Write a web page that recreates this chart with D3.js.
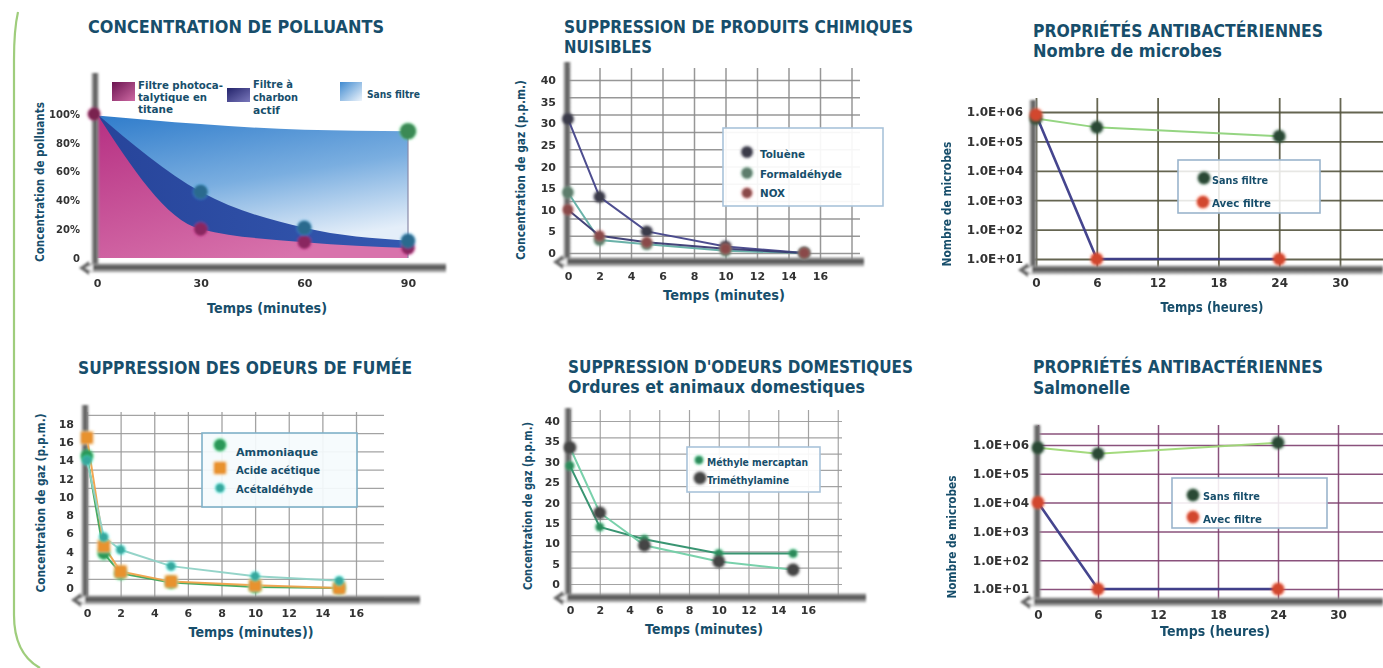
<!DOCTYPE html>
<html><head><meta charset="utf-8">
<script src="https://cdn.jsdelivr.net/npm/d3@7"></script>
<style>
body{margin:0;background:#fff;}
svg{display:block;}
text{font-family:"DejaVu Sans",Verdana,sans-serif;}
</style></head>
<body><svg id="c" width="1383" height="668"></svg>
<script>
// ================= DATA =================
const p1Title = ["CONCENTRATION DE POLLUANTS"];
const p1Minutes = [0, 30, 60, 90];
const p1TiO2 = [100, 20, 11, 7];
const p1Charbon = [100, 46, 21, 12];
const p1SansFiltre = [99, 93, 89, 88];
const p1YTicks = [0, 20, 40, 60, 80, 100];
const p1YTickLabels = ["0", "20%", "40%", "60%", "80%", "100%"];
const p1XTicks = [0, 30, 60, 90];
const p1Legend = [["Filtre photoca-", "talytique en", "titane"], ["Filtre à", "charbon", "actif"], ["Sans filtre"]];
const p1AxisTitles = ["Temps (minutes)", "Concentration de polluants"];

const p2Title = ["SUPPRESSION DE PRODUITS CHIMIQUES", "NUISIBLES"];
const p2Minutes = [0, 2, 5, 10, 15];
const p2Toluene = [31, 13, 5, 1.5, 0];
const p2Formaldehyde = [14, 3, 2, 0.5, 0];
const p2Nox = [10, 4, 2.5, 1, 0];
const p2Legend = ["Toluène", "Formaldéhyde", "NOX"];
const p2YTicks = [0, 5, 10, 15, 20, 25, 30, 35, 40];
const p2XTicks = [0, 2, 4, 6, 8, 10, 12, 14, 16];
const p2AxisTitles = ["Temps (minutes)", "Concentration de gaz (p.p.m.)"];

const p3Title = ["PROPRIÉTÉS ANTIBACTÉRIENNES", "Nombre de microbes"];
const p3Hours = [0, 6, 24];
const p3SansFiltre = [6e5, 3e5, 1.5e5];
const p3AvecFiltre = [8e5, 10, 10];
const p3Legend = ["Sans filtre", "Avec filtre"];
const p3YTicks = [1e1, 1e2, 1e3, 1e4, 1e5, 1e6];
const p3YTickLabels = ["1.0E+01", "1.0E+02", "1.0E+03", "1.0E+04", "1.0E+05", "1.0E+06"];
const p3XTicks = [0, 6, 12, 18, 24, 30];
const p3AxisTitles = ["Temps (heures)", "Nombre de microbes"];

const p4Title = ["SUPPRESSION DES ODEURS DE FUMÉE"];
const p4Minutes = [0, 1, 2, 5, 10, 15];
const p4Ammoniaque = [14.5, 3.8, 1.6, 0.6, 0.1, 0];
const p4AcideAcetique = [16.5, 4.6, 1.8, 0.7, 0.3, 0];
const p4Acetaldehyde = [14, 5.6, 4.2, 2.4, 1.3, 0.8];
const p4Legend = ["Ammoniaque", "Acide acétique", "Acétaldéhyde"];
const p4YTicks = [0, 2, 4, 6, 8, 10, 12, 14, 16, 18];
const p4XTicks = [0, 2, 4, 6, 8, 10, 12, 14, 16];
const p4AxisTitles = ["Temps (minutes))", "Concentration de gaz (p.p.m.)"];

const p5Title = ["SUPPRESSION D'ODEURS DOMESTIQUES", "Ordures et animaux domestiques"];
const p5Minutes = [0, 2, 5, 10, 15];
const p5Mercaptan = [29, 14, 11, 7.5, 7.5];
const p5Trimethylamine = [33.5, 17.5, 9.5, 5.5, 3.5];
const p5Legend = ["Méthyle mercaptan", "Triméthylamine"];
const p5YTicks = [0, 5, 10, 15, 20, 25, 30, 35, 40];
const p5XTicks = [0, 2, 4, 6, 8, 10, 12, 14, 16];
const p5AxisTitles = ["Temps (minutes)", "Concentration de gaz (p.p.m.)"];

const p6Title = ["PROPRIÉTÉS ANTIBACTÉRIENNES", "Salmonelle"];
const p6Hours = [0, 6, 24];
const p6SansFiltre = [8e5, 5e5, 1.2e6];
const p6AvecFiltre = [1e4, 10, 10];
const p6Legend = ["Sans filtre", "Avec filtre"];
const p6YTicks = [1e1, 1e2, 1e3, 1e4, 1e5, 1e6];
const p6YTickLabels = ["1.0E+01", "1.0E+02", "1.0E+03", "1.0E+04", "1.0E+05", "1.0E+06"];
const p6XTicks = [0, 6, 12, 18, 24, 30];
const p6AxisTitles = ["Temps (heures)", "Nombre de microbes"];

// ================= DRAWING =================
const TEAL = "#174e6b";
const svg = d3.select("#c");
const defs = svg.append("defs");

function blurFilter(id, sd) {
  const f = defs.append("filter").attr("id", id).attr("x", "-50%").attr("y", "-50%").attr("width", "200%").attr("height", "200%");
  f.append("feGaussianBlur").attr("stdDeviation", sd);
}
blurFilter("soft", 0.55);
blurFilter("mk", 0.85);
blurFilter("bar", 0.8);

function linGrad(id, stops, x1, y1, x2, y2) {
  const g = defs.append("linearGradient").attr("id", id)
    .attr("x1", x1).attr("y1", y1).attr("x2", x2).attr("y2", y2);
  stops.forEach(s => g.append("stop").attr("offset", s[0]).attr("stop-color", s[1]));
}
linGrad("vbar", [[0, "#b8b8b8"], [0.5, "#4d4d4d"], [1, "#9c9c9c"]], 0, 0, 1, 0);
linGrad("hbar", [[0, "#a0a0a0"], [0.45, "#4a4a4a"], [1, "#c8c8c8"]], 0, 0, 0, 1);
linGrad("sansG", [[0, "#2f7ccb"], [0.55, "#7aaee0"], [1, "#e4eef9"]], 0, 0, 0.35, 1);
linGrad("charG", [[0, "#27449a"], [1, "#3458b0"]], 0, 0, 1, 0);
linGrad("pinkG", [[0, "#b52f82"], [1, "#d873ac"]], 0, 0, 0.6, 1);
linGrad("swPink", [[0, "#6b1450"], [1, "#cf6aa4"]], 0, 0, 1, 1);
linGrad("swChar", [[0, "#23236a"], [1, "#7a78bc"]], 0, 0, 1, 1);
linGrad("swSans", [[0, "#3f8ad0"], [1, "#eef4fb"]], 0, 0, 1, 1);

// frame
svg.append("path")
  .attr("d", "M18,12 C15,25 14,40 14,60 L14,615 C14,640 22,658 40,668")
  .attr("fill", "none").attr("stroke", "#9fcd7c").attr("stroke-width", 2.2);

function addText(parent, str, x, y, size, opt = {}) {
  const t = parent.append("text").attr("x", x).attr("y", y).attr("font-size", size)
    .attr("font-weight", opt.weight || "bold").attr("fill", opt.fill || TEAL).text(str);
  if (opt.anchor) t.attr("text-anchor", opt.anchor);
  if (opt.width) t.attr("textLength", opt.width).attr("lengthAdjust", "spacingAndGlyphs");
  if (opt.rotate) t.attr("transform", `rotate(-90,${x},${y})`);
  return t;
}

function axisBars(g, o) {
  const b = g.append("g").attr("filter", "url(#bar)");
  b.append("rect").attr("x", o.axisX - 3.5).attr("y", o.vTop).attr("width", 7)
    .attr("height", o.axisY - o.vTop).attr("fill", "url(#vbar)");
  b.append("rect").attr("x", o.hLeft).attr("y", o.axisY - 4.5).attr("width", o.hRight - o.hLeft)
    .attr("height", 9).attr("fill", "url(#hbar)");
  b.append("path").attr("d", `M${o.hLeft - 9},${o.axisY} L${o.hLeft + 1},${o.axisY - 7} L${o.hLeft + 1},${o.axisY + 7} Z`)
    .attr("fill", "#6a6a6a");
  b.append("path").attr("d", `M${o.hLeft - 3},${o.axisY} L${o.hLeft + 5},${o.axisY - 4} L${o.hLeft + 5},${o.axisY + 4} Z`)
    .attr("fill", "#eeeeee");
}

function tickLabels(g, o) {
  const ya = g.append("g").attr("transform", `translate(${o.yLabelX},0)`)
    .call(d3.axisLeft(o.y).tickValues(o.yTicks).tickSize(0).tickPadding(0)
      .tickFormat((d, i) => o.yLabels ? o.yLabels[i] : d));
  ya.select(".domain").remove();
  ya.attr("font-family", null).attr("font-size", null);
  ya.selectAll("text").attr("font-size", o.yFont).attr("font-weight", "bold")
    .attr("fill", "#333").attr("filter", "url(#soft)");
  const xa = g.append("g").attr("transform", `translate(0,${o.xLabelBase - 0.71 * o.xFont})`)
    .call(d3.axisBottom(o.x).tickValues(o.xTicks).tickSize(0).tickPadding(0));
  xa.select(".domain").remove();
  xa.attr("font-family", null).attr("font-size", null);
  xa.selectAll("text").attr("font-size", o.xFont).attr("font-weight", "bold")
    .attr("fill", "#333").attr("filter", "url(#soft)");
}

function marker(g, type, cx, cy, color, r) {
  const m = g.append("g").attr("filter", "url(#mk)");
  if (type === "square") {
    m.append("rect").attr("x", cx - r - 1.5).attr("y", cy - r - 1.5).attr("width", 2 * r + 3).attr("height", 2 * r + 3)
      .attr("rx", 3).attr("fill", "#f6d39a").attr("opacity", 0.6);
    m.append("rect").attr("x", cx - r).attr("y", cy - r).attr("width", 2 * r).attr("height", 2 * r)
      .attr("rx", 2).attr("fill", color);
  } else {
    m.append("circle").attr("cx", cx).attr("cy", cy).attr("r", r + 1.5).attr("fill", d3.color(color).brighter(1.2)).attr("opacity", 0.35);
    m.append("circle").attr("cx", cx).attr("cy", cy).attr("r", r).attr("fill", color);
  }
}

function titles(lines, x, bases, widths) {
  lines.forEach((t, i) => addText(svg, t, x, bases[i], 17, { width: widths[i] }));
}

function gridPanel(o) {
  const g = svg.append("g");
  // grid
  const gx = g.append("g").attr("transform", `translate(0,${o.axisY})`)
    .call(d3.axisBottom(o.x).tickValues(o.gridX).tickSize(-(o.axisY - o.gridTop)).tickFormat(""));
  gx.select(".domain").remove();
  gx.selectAll("line").attr("stroke", o.gridColor).attr("stroke-width", o.gridW);
  const gy = g.append("g").attr("transform", `translate(${o.axisX},0)`)
    .call(d3.axisLeft(o.y).tickValues(o.gridY).tickSize(-(o.gridRight - o.axisX)).tickFormat(""));
  gy.select(".domain").remove();
  gy.selectAll("line").attr("stroke", o.gridColor).attr("stroke-width", o.gridW);
  gx.attr("opacity", 0.9); gy.attr("opacity", 0.9);

  axisBars(g, o);

  // series lines
  o.series.forEach(s => {
    const line = d3.line().x((d, i) => o.x(s.xs[i])).y(d => o.y(d));
    g.append("path").attr("d", line(s.ys)).attr("fill", "none")
      .attr("stroke", s.line).attr("stroke-width", s.lw || 2).attr("opacity", 0.95);
  });
  o.series.forEach(s => {
    s.ys.forEach((v, i) => marker(g, s.type, o.x(s.xs[i]), o.y(v), s.color, s.r));
  });

  // legend
  const L = o.legend;
  g.append("rect").attr("x", L.box[0]).attr("y", L.box[1]).attr("width", L.box[2]).attr("height", L.box[3])
    .attr("fill", L.fill || "#fff").attr("fill-opacity", L.op || 0.92)
    .attr("stroke", L.stroke || "#a9c3da").attr("stroke-width", 1.6);
  L.items.forEach((it, i) => {
    const s = o.series[i];
    marker(g, s.type, it.mx, it.my, s.color, s.lr || s.r);
    addText(g, it.label, it.tx, it.ty, L.font, { width: it.w });
  });

  tickLabels(g, o);

  addText(g, o.xTitle, o.xTitlePos[0], o.xTitlePos[1], 13.5, { anchor: "middle", width: o.xTitlePos[2] });
  addText(g, o.yTitle, o.yTitlePos[0], o.yTitlePos[1], 11.5, { anchor: "middle", width: o.yTitlePos[2], rotate: true });
}

// ---------- Panel 1 ----------
(function () {
  const g = svg.append("g");
  const x = d3.scaleLinear().domain([0, 90]).range([97, 408]);
  const y = d3.scaleLinear().domain([0, 100]).range([258, 114]);
  const area = vals => d3.area().x((d, i) => x(p1Minutes[i])).y0(y(0)).y1(d => y(d)).curve(d3.curveMonotoneX)(vals);
  g.append("path").attr("d", area(p1SansFiltre)).attr("fill", "url(#sansG)");
  g.append("path").attr("d", area(p1Charbon)).attr("fill", "url(#charG)");
  g.append("path").attr("d", area(p1TiO2)).attr("fill", "url(#pinkG)");
  g.append("line").attr("x1", x(90)).attr("x2", x(90)).attr("y1", y(p1SansFiltre[3])).attr("y2", y(0))
    .attr("stroke", "#8a8aa8").attr("stroke-width", 1.2);
  axisBars(g, { axisX: 95, vTop: 73, axisY: 268, hLeft: 88, hRight: 446 });
  // markers
  p1TiO2.forEach((v, i) => { if (i > 0) marker(g, "c", x(p1Minutes[i]), y(v), "#8a2660", 6.5); });
  p1Charbon.forEach((v, i) => { if (i > 0) marker(g, "c", x(p1Minutes[i]), y(v), "#2b6b8e", 7); });
  marker(g, "c", x(p1Minutes[3]), y(p1SansFiltre[3]), "#3b8a55", 8);
  marker(g, "c", x(0) - 3, y(p1TiO2[0]), "#7a2450", 6);
  // legend
  g.append("rect").attr("x", 112).attr("y", 82).attr("width", 23).attr("height", 19).attr("fill", "url(#swPink)");
  g.append("rect").attr("x", 227).attr("y", 88).attr("width", 23).attr("height", 14).attr("fill", "url(#swChar)");
  g.append("rect").attr("x", 340).attr("y", 82).attr("width", 22).attr("height", 19).attr("fill", "url(#swSans)");
  const lw = [[85, 69, 35], [40, 45, 27], [53]];
  const lx = [138, 253, 367];
  const lb = [[89, 101, 113], [88, 101, 114], [98]];
  p1Legend.forEach((lines, k) => lines.forEach((t, j) => addText(g, t, lx[k], lb[k][j], 11, { width: lw[k][j] })));
  tickLabels(g, { x, y, yTicks: p1YTicks, yLabels: p1YTickLabels, yLabelX: 80, yFont: 10,
    xTicks: p1XTicks, xLabelBase: 287, xFont: 11 });
  addText(g, p1AxisTitles[0], 267, 313, 13.5, { anchor: "middle", width: 120 });
  addText(g, p1AxisTitles[1], 44, 182, 11.5, { anchor: "middle", width: 160, rotate: true });
})();
titles(p1Title, 88, [33], [296]);

// ---------- Panel 2 ----------
gridPanel({
  x: d3.scaleLinear().domain([0, 16]).range([568, 820]),
  y: d3.scaleLinear().domain([0, 40]).range([253, 80]),
  gridX: [0, 2, 4, 6, 8, 10, 12, 14, 16, 18], gridY: [0, 4, 8, 12, 16, 20, 24, 28, 32, 36, 40],
  gridTop: 68, gridRight: 860, gridColor: "#8c8c8c", gridW: 1.5,
  axisX: 567, vTop: 62, axisY: 262, hLeft: 562, hRight: 864,
  series: [
    { xs: p2Minutes, ys: p2Toluene, line: "#45458a", color: "#3b3b48", r: 5.5, type: "c" },
    { xs: p2Minutes, ys: p2Formaldehyde, line: "#62aea4", color: "#5d7d6c", r: 5.5, type: "c" },
    { xs: p2Minutes, ys: p2Nox, line: "#3a3a72", color: "#8a4a4a", r: 5, type: "c" }
  ],
  legend: { box: [723, 128, 160, 78], font: 11, items: [
    { label: p2Legend[0], mx: 747, my: 152, tx: 760, ty: 158, w: 45 },
    { label: p2Legend[1], mx: 747, my: 173, tx: 760, ty: 178, w: 82 },
    { label: p2Legend[2], mx: 747, my: 193, tx: 760, ty: 197, w: 25 }
  ] },
  yTicks: p2YTicks, yLabelX: 556, yFont: 11, xTicks: p2XTicks, xLabelBase: 280, xFont: 11,
  xTitle: p2AxisTitles[0], xTitlePos: [724, 300, 122],
  yTitle: p2AxisTitles[1], yTitlePos: [525, 170, 180]
});
titles(p2Title, 564, [33, 53], [349, 88]);

// ---------- Panel 3 ----------
gridPanel({
  x: d3.scaleLinear().domain([0, 30]).range([1036, 1340]),
  y: d3.scaleLog().domain([10, 1e6]).range([259, 112]),
  gridX: [0, 6, 12, 18, 24, 30], gridY: [1e1, 1e2, 1e3, 1e4, 1e5, 1e6],
  gridTop: 98, gridRight: 1383, gridColor: "#55553f", gridW: 1.8,
  axisX: 1033, vTop: 100, axisY: 270, hLeft: 1027, hRight: 1383,
  series: [
    { xs: p3Hours, ys: p3SansFiltre, line: "#8fd37b", color: "#2c4a36", r: 6, type: "c", lw: 2 },
    { xs: p3Hours, ys: p3AvecFiltre, line: "#3b3b88", color: "#d2462f", r: 6, type: "c", lw: 2.6 }
  ],
  legend: { box: [1178, 160, 142, 53], font: 11, op: 0.85, stroke: "#9ab4cc", items: [
    { label: p3Legend[0], mx: 1204, my: 178, tx: 1212, ty: 184, w: 56 },
    { label: p3Legend[1], mx: 1203, my: 202, tx: 1212, ty: 207, w: 59 }
  ] },
  yTicks: p3YTicks, yLabels: p3YTickLabels, yLabelX: 1023, yFont: 12,
  xTicks: p3XTicks, xLabelBase: 287, xFont: 12,
  xTitle: p3AxisTitles[0], xTitlePos: [1212, 312, 103],
  yTitle: p3AxisTitles[1], yTitlePos: [951, 204, 125]
});
titles(p3Title, 1033, [37, 57], [290, 189]);

// ---------- Panel 4 ----------
gridPanel({
  x: d3.scaleLinear().domain([0, 16]).range([87, 356]),
  y: d3.scaleLinear().domain([0, 18]).range([588, 424]),
  gridX: [0, 2, 4, 6, 8, 10, 12, 14, 16], gridY: [-1, 1, 3, 5, 7, 9, 11, 13, 15, 17, 19],
  gridTop: 412, gridRight: 384, gridColor: "#9a9a9a", gridW: 1.3,
  axisX: 85, vTop: 405, axisY: 600, hLeft: 80, hRight: 420,
  series: [
    { xs: p4Minutes, ys: p4Ammoniaque, line: "#3fa65a", color: "#2a9858", r: 6, type: "c" },
    { xs: p4Minutes, ys: p4AcideAcetique, line: "#f0a24a", color: "#e8922e", r: 6, type: "square", lr: 6 },
    { xs: p4Minutes, ys: p4Acetaldehyde, line: "#8fd2c6", color: "#36a89e", r: 4.5, type: "c" }
  ],
  legend: { box: [202, 433, 155, 74], font: 11, fill: "#f5fbfd", stroke: "#7fb1c9", items: [
    { label: p4Legend[0], mx: 220, my: 445, tx: 236, ty: 456, w: 82 },
    { label: p4Legend[1], mx: 220, my: 468, tx: 236, ty: 474, w: 84 },
    { label: p4Legend[2], mx: 220, my: 488, tx: 236, ty: 493, w: 77 }
  ] },
  yTicks: p4YTicks, yLabelX: 74, yFont: 11, xTicks: p4XTicks, xLabelBase: 617, xFont: 11,
  xTitle: p4AxisTitles[0], xTitlePos: [251, 637, 125],
  yTitle: p4AxisTitles[1], yTitlePos: [45, 503, 179]
});
titles(p4Title, 78, [374], [334]);

// ---------- Panel 5 ----------
gridPanel({
  x: d3.scaleLinear().domain([0, 16]).range([570, 808]),
  y: d3.scaleLinear().domain([0, 40]).range([584, 421]),
  gridX: [0, 2, 4, 6, 8, 10, 12, 14, 16, 18], gridY: [0, 4, 8, 12, 16, 20, 24, 28, 32, 36, 40],
  gridTop: 410, gridRight: 842, gridColor: "#9a9a9a", gridW: 1.2,
  axisX: 568, vTop: 408, axisY: 598, hLeft: 562, hRight: 866,
  series: [
    { xs: p5Minutes, ys: p5Mercaptan, line: "#2e8f6a", color: "#2a8a5a", r: 4, type: "c" },
    { xs: p5Minutes, ys: p5Trimethylamine, line: "#72cfa6", color: "#454545", r: 6, type: "c" }
  ],
  legend: { box: [687, 447, 133, 45], font: 10.5, items: [
    { label: p5Legend[0], mx: 699, my: 460, tx: 707, ty: 466, w: 101 },
    { label: p5Legend[1], mx: 700, my: 478, tx: 707, ty: 484, w: 82 }
  ] },
  yTicks: p5YTicks, yLabelX: 560, yFont: 11, xTicks: p5XTicks, xLabelBase: 614, xFont: 11,
  xTitle: p5AxisTitles[0], xTitlePos: [704, 634, 118],
  yTitle: p5AxisTitles[1], yTitlePos: [532, 506, 168]
});
titles(p5Title, 568, [373, 393], [345, 297]);

// ---------- Panel 6 ----------
gridPanel({
  x: d3.scaleLinear().domain([0, 30]).range([1038, 1338]),
  y: d3.scaleLog().domain([10, 1e6]).range([589, 445]),
  gridX: [0, 6, 12, 18, 24, 30], gridY: [1e1, 1e2, 1e3, 1e4, 1e5, 1e6, 2.5e6],
  gridTop: 425, gridRight: 1383, gridColor: "#7e3f6e", gridW: 1.5,
  axisX: 1037, vTop: 425, axisY: 602, hLeft: 1029, hRight: 1383,
  series: [
    { xs: p6Hours, ys: p6SansFiltre, line: "#9fd877", color: "#2c4a36", r: 6, type: "c", lw: 2 },
    { xs: p6Hours, ys: p6AvecFiltre, line: "#3b3b88", color: "#d2462f", r: 6, type: "c", lw: 2.6 }
  ],
  legend: { box: [1172, 478, 155, 50], font: 11, op: 0.88, stroke: "#9ab4cc", items: [
    { label: p6Legend[0], mx: 1193, my: 495, tx: 1203, ty: 500, w: 57 },
    { label: p6Legend[1], mx: 1193, my: 517, tx: 1203, ty: 523, w: 59 }
  ] },
  yTicks: p6YTicks, yLabels: p6YTickLabels, yLabelX: 1029, yFont: 12,
  xTicks: p6XTicks, xLabelBase: 619, xFont: 12,
  xTitle: p6AxisTitles[0], xTitlePos: [1215, 636, 110],
  yTitle: p6AxisTitles[1], yTitlePos: [956, 537, 123]
});
titles(p6Title, 1033, [373, 394], [290, 97]);
</script>
</body></html>
